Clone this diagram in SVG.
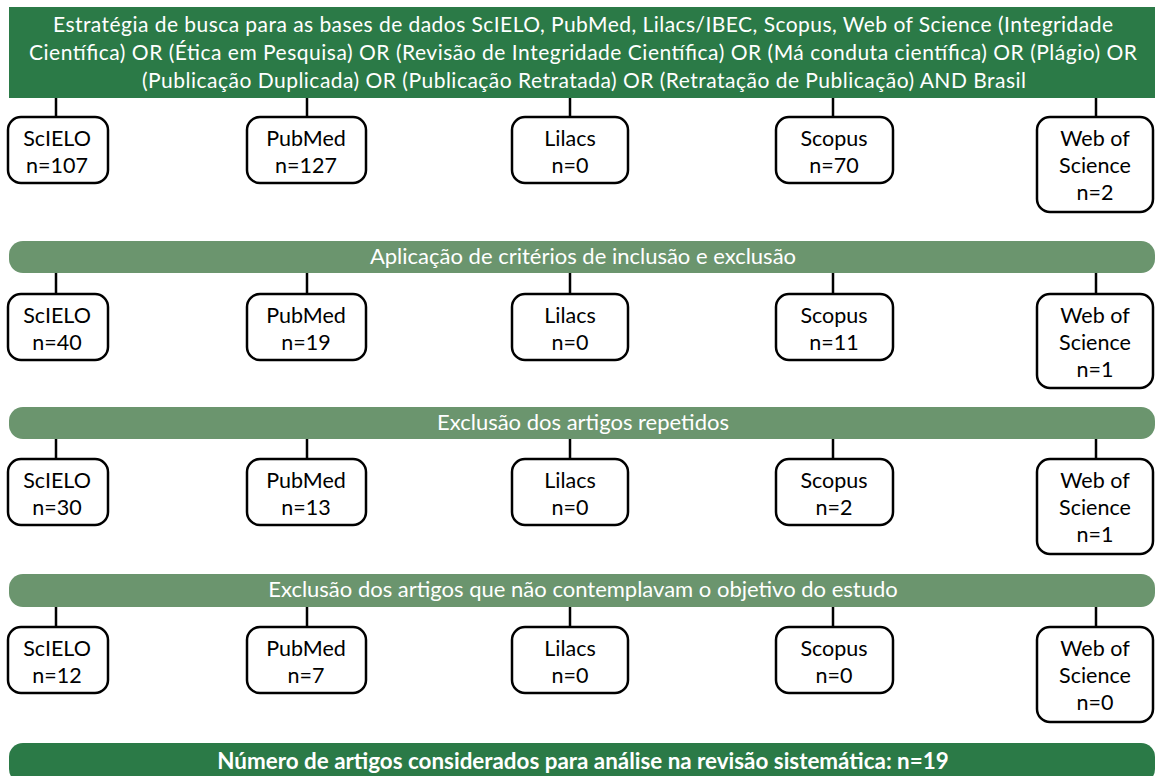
<svg xmlns="http://www.w3.org/2000/svg" width="1155" height="776" viewBox="0 0 1155 776">
<style>
.hdr{fill:#2b7a47}
.bar{fill:#6b956e}
.box{fill:#fff;stroke:#000;stroke-width:2.5}
.t{font-family:Lato,"Open Sans","Liberation Sans",sans-serif;font-size:21.5px;fill:#000;text-anchor:middle}
.w{font-family:Lato,"Open Sans","Liberation Sans",sans-serif;font-size:21px;fill:#fff;text-anchor:middle}
.bt{font-size:22px}
.b{font-weight:bold;font-size:22.4px}
.c{stroke:#000;stroke-width:2.5;fill:none}
</style>
<rect width="1155" height="776" fill="#fff"/>
<g id="connectors">
<path class="c" d="M56,98V117M307,98V117M570,98V117M833,98V117M1096,98V117"/>
<path class="c" d="M56,273V294M307,273V294M570,273V294M833,273V294M1096,273V294"/>
<path class="c" d="M56,439V459M307,439V459M570,439V459M833,439V459M1096,439V459"/>
<path class="c" d="M56,607V627M307,607V627M570,607V627M833,607V627M1096,607V627"/>
</g>
<g id="header">
<rect class="hdr" x="9" y="7" width="1146" height="91"/>
<text class="w" x="583" y="32" textLength="1060" lengthAdjust="spacing">Estratégia de busca para as bases de dados ScIELO, PubMed, Lilacs/IBEC, Scopus, Web of Science (Integridade</text>
<text class="w" x="583" y="60" textLength="1108" lengthAdjust="spacing">Científica) OR (Ética em Pesquisa) OR (Revisão de Integridade Científica) OR (Má conduta científica) OR (Plágio) OR</text>
<text class="w" x="584" y="88" textLength="884" lengthAdjust="spacing">(Publicação Duplicada) OR (Publicação Retratada) OR (Retratação de Publicação) AND Brasil</text>
</g>
<g id="r1-scielo"><rect class="box" x="8" y="117" width="100" height="66" rx="13"/><text class="t" x="57" y="146">ScIELO</text><text class="t" x="57" y="173">n=107</text></g>
<g id="r1-pubmed"><rect class="box" x="247" y="117" width="119" height="66" rx="13"/><text class="t" x="306" y="146">PubMed</text><text class="t" x="306" y="173">n=127</text></g>
<g id="r1-lilacs"><rect class="box" x="512" y="117" width="116" height="66" rx="13"/><text class="t" x="570" y="146">Lilacs</text><text class="t" x="570" y="173">n=0</text></g>
<g id="r1-scopus"><rect class="box" x="776" y="117" width="117" height="66" rx="13"/><text class="t" x="834" y="146">Scopus</text><text class="t" x="834" y="173">n=70</text></g>
<g id="r1-wos"><rect class="box" x="1037" y="117" width="116" height="95" rx="13"/><text class="t" x="1095" y="146">Web of</text><text class="t" x="1095" y="173">Science</text><text class="t" x="1095" y="200">n=2</text></g>

<g id="bar2"><rect class="bar" x="9" y="241" width="1146" height="32" rx="14"/><text class="w bt" x="583" y="264">Aplicação de critérios de inclusão e exclusão</text></g>
<g id="r2-scielo"><rect class="box" x="8" y="294" width="100" height="66" rx="13"/><text class="t" x="57" y="323">ScIELO</text><text class="t" x="57" y="350">n=40</text></g>
<g id="r2-pubmed"><rect class="box" x="247" y="294" width="119" height="66" rx="13"/><text class="t" x="306" y="323">PubMed</text><text class="t" x="306" y="350">n=19</text></g>
<g id="r2-lilacs"><rect class="box" x="512" y="294" width="116" height="66" rx="13"/><text class="t" x="570" y="323">Lilacs</text><text class="t" x="570" y="350">n=0</text></g>
<g id="r2-scopus"><rect class="box" x="776" y="294" width="117" height="66" rx="13"/><text class="t" x="834" y="323">Scopus</text><text class="t" x="834" y="350">n=11</text></g>
<g id="r2-wos"><rect class="box" x="1037" y="294" width="116" height="94" rx="13"/><text class="t" x="1095" y="323">Web of</text><text class="t" x="1095" y="350">Science</text><text class="t" x="1095" y="377">n=1</text></g>

<g id="bar3"><rect class="bar" x="9" y="407" width="1146" height="32" rx="14"/><text class="w bt" x="583" y="430">Exclusão dos artigos repetidos</text></g>
<g id="r3-scielo"><rect class="box" x="8" y="459" width="100" height="66" rx="13"/><text class="t" x="57" y="488">ScIELO</text><text class="t" x="57" y="515">n=30</text></g>
<g id="r3-pubmed"><rect class="box" x="247" y="459" width="119" height="66" rx="13"/><text class="t" x="306" y="488">PubMed</text><text class="t" x="306" y="515">n=13</text></g>
<g id="r3-lilacs"><rect class="box" x="512" y="459" width="116" height="66" rx="13"/><text class="t" x="570" y="488">Lilacs</text><text class="t" x="570" y="515">n=0</text></g>
<g id="r3-scopus"><rect class="box" x="776" y="459" width="117" height="66" rx="13"/><text class="t" x="834" y="488">Scopus</text><text class="t" x="834" y="515">n=2</text></g>
<g id="r3-wos"><rect class="box" x="1037" y="459" width="116" height="95" rx="13"/><text class="t" x="1095" y="488">Web of</text><text class="t" x="1095" y="515">Science</text><text class="t" x="1095" y="542">n=1</text></g>

<g id="bar4"><rect class="bar" x="9" y="574" width="1146" height="33" rx="14"/><text class="w bt" x="583" y="597">Exclusão dos artigos que não contemplavam o objetivo do estudo</text></g>
<g id="r4-scielo"><rect class="box" x="8" y="627" width="100" height="66" rx="13"/><text class="t" x="57" y="656">ScIELO</text><text class="t" x="57" y="683">n=12</text></g>
<g id="r4-pubmed"><rect class="box" x="247" y="627" width="119" height="66" rx="13"/><text class="t" x="306" y="656">PubMed</text><text class="t" x="306" y="683">n=7</text></g>
<g id="r4-lilacs"><rect class="box" x="512" y="627" width="116" height="66" rx="13"/><text class="t" x="570" y="656">Lilacs</text><text class="t" x="570" y="683">n=0</text></g>
<g id="r4-scopus"><rect class="box" x="776" y="627" width="117" height="66" rx="13"/><text class="t" x="834" y="656">Scopus</text><text class="t" x="834" y="683">n=0</text></g>
<g id="r4-wos"><rect class="box" x="1037" y="627" width="116" height="95" rx="13"/><text class="t" x="1095" y="656">Web of</text><text class="t" x="1095" y="683">Science</text><text class="t" x="1095" y="710">n=0</text></g>

<g id="result"><rect class="hdr" x="9" y="743" width="1146" height="40" rx="14"/><text class="w b" x="583" y="769">Número de artigos considerados para análise na revisão sistemática: n=19</text></g>
</svg>
